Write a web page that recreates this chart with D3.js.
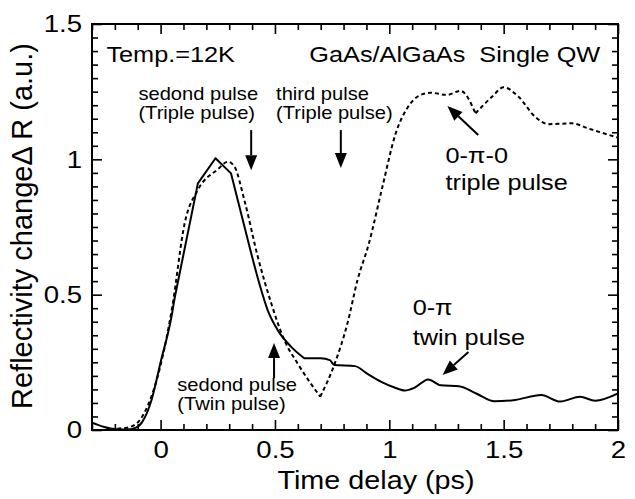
<!DOCTYPE html>
<html>
<head>
<meta charset="utf-8">
<script src="https://cdn.jsdelivr.net/npm/d3@7"></script>
<style>
  body { margin: 0; background: #fff; }
  text { font-family: "Liberation Sans", Arial, Helvetica, sans-serif; fill: #000; white-space: pre; }
</style>
</head>
<body>
<div id="chart"></div>
<script>
// chart size, matches the window
const width = 635, height = 499;
const margin = {top: 24, right: 17, bottom: 69, left: 92};
const SX = 1.15;   // the original figure is stretched a bit sideways

// 0-pi twin pulse (solid)
const twinTime = [-0.3, -0.25, -0.2, -0.15, -0.11, -0.08, -0.04, 0, 0.05, 0.061, 0.163, 0.24, 0.308, 0.388, 0.432, 0.468, 0.512, 0.57, 0.628, 0.7, 0.74, 0.76, 0.85, 0.9, 0.965, 1.02, 1.068, 1.11, 1.17, 1.225, 1.305, 1.38, 1.46, 1.55, 1.664, 1.747, 1.834, 1.9, 2.0];
const twinR = [0.027, 0.012, 0.003, 0.002, 0.008, 0.03, 0.11, 0.25, 0.43, 0.486, 0.911, 1.004, 0.948, 0.68, 0.54, 0.443, 0.369, 0.308, 0.265, 0.265, 0.258, 0.24, 0.236, 0.21, 0.178, 0.158, 0.146, 0.156, 0.187, 0.165, 0.162, 0.135, 0.106, 0.111, 0.129, 0.105, 0.123, 0.108, 0.135];

// 0-pi-0 triple pulse (dashed)
const tripleTime = [-0.22, -0.15, -0.1, -0.055, 0, 0.05, 0.105, 0.163, 0.25, 0.294, 0.323, 0.366, 0.425, 0.483, 0.541, 0.599, 0.698, 0.759, 0.817, 0.861, 0.911, 0.97, 1.028, 1.079, 1.137, 1.18, 1.253, 1.311, 1.377, 1.449, 1.5, 1.565, 1.638, 1.696, 1.8, 1.87, 2.0];
const tripleR = [0.004, 0.008, 0.028, 0.092, 0.24, 0.45, 0.763, 0.887, 0.963, 0.991, 0.973, 0.85, 0.64, 0.47, 0.332, 0.246, 0.123, 0.24, 0.394, 0.554, 0.69, 0.899, 1.096, 1.19, 1.238, 1.246, 1.238, 1.253, 1.17, 1.231, 1.266, 1.231, 1.157, 1.13, 1.133, 1.114, 1.08];

// points where the traces have a sharp corner
const twinCorners = [0.061, 0.163, 0.24, 0.308, 0.628];
const tripleCorners = [0.698, 1.377];

const xMajor = [0, 0.5, 1, 1.5, 2];
const yMajor = [0, 0.5, 1, 1.5];

const svg = d3.select("#chart").append("svg")
    .attr("width", width)
    .attr("height", height);

const x = d3.scaleLinear().domain([-0.3, 2]).range([margin.left, width - margin.right]);
const y = d3.scaleLinear().domain([0, 1.5]).range([height - margin.bottom, margin.top]);

const xMinor = d3.range(-3, 21).map(d => d / 10).filter(d => xMajor.indexOf(d) < 0);
const yMinor = d3.range(1, 30).map(d => d / 20).filter(d => yMajor.indexOf(d) < 0);

// ticks on all four sides, pointing in
function tickSet(axisFn, pos, major, minor, withLabels) {
    const scale = (axisFn === d3.axisBottom || axisFn === d3.axisTop) ? x : y;
    const g = svg.append("g").attr("transform", pos);
    g.call(axisFn(scale)
        .tickValues(major).tickSize(-10).tickPadding(axisFn === d3.axisBottom ? 11 : 10)
        .tickFormat(withLabels ? d3.format("") : ""));
    g.select(".domain").remove();
    const m = svg.append("g").attr("transform", pos);
    m.call(axisFn(scale).tickValues(minor).tickSize(-6).tickFormat(""));
    m.select(".domain").remove();
    svg.selectAll(".tick line").attr("stroke", "#000").attr("stroke-width", 1.6);
    return g;
}

const gx = tickSet(d3.axisBottom, `translate(0,${height - margin.bottom})`, xMajor, xMinor, true);
tickSet(d3.axisTop, `translate(0,${margin.top})`, xMajor, xMinor, false);
const gy = tickSet(d3.axisLeft, `translate(${margin.left},0)`, yMajor, yMinor, true);
tickSet(d3.axisRight, `translate(${width - margin.right},0)`, yMajor, yMinor, false);

gx.selectAll("text").attr("font-size", 24).attr("font-family", null)
    .attr("transform", `scale(${SX},1)`);
gy.selectAll("text").attr("font-size", 24).attr("font-family", null)
    .attr("transform", `scale(${SX},1)`)
    .attr("x", -10 / SX);

// frame
svg.append("rect")
    .attr("x", margin.left).attr("y", margin.top)
    .attr("width", width - margin.left - margin.right)
    .attr("height", height - margin.top - margin.bottom)
    .attr("fill", "none").attr("stroke", "#000").attr("stroke-width", 2);

const line = d3.line()
    .x(d => x(d[0]))
    .y(d => y(d[1]))
    .curve(d3.curveMonotoneX);

// smooth between corners, joined into one path
function tracePath(ts, vs, corners) {
    const pts = d3.zip(ts, vs);
    let d = "", seg = [];
    pts.forEach(p => {
        seg.push(p);
        if (corners.indexOf(p[0]) >= 0) {
            if (seg.length > 1) d += line(seg);
            seg = [p];
        }
    });
    if (seg.length > 1) d += line(seg);
    return d;
}

svg.append("path")
    .attr("d", tracePath(tripleTime, tripleR, tripleCorners))
    .attr("fill", "none").attr("stroke", "#000")
    .attr("stroke-width", 2).attr("stroke-dasharray", "4,3");

svg.append("path")
    .attr("d", tracePath(twinTime, twinR, twinCorners))
    .attr("fill", "none").attr("stroke", "#000")
    .attr("stroke-width", 2).attr("stroke-linejoin", "round").attr("stroke-linecap", "round");

// text helper
function label(px, py, str, size, anchor) {
    svg.append("text")
        .attr("transform", `translate(${px},${py}) scale(${SX},1)`)
        .attr("text-anchor", anchor || "start")
        .attr("font-size", size)
        .text(str);
}

// axis titles
label(376, 489, "Time delay (ps)", 25, "middle");
svg.append("text")
    .attr("transform", `translate(32,${226}) rotate(-90)`)
    .attr("text-anchor", "middle")
    .attr("font-size", 29)
    .text("Reflectivity change\u0394 R (a.u.)");

// annotations
label(x(-0.237), y(1.359), "Temp.=12K", 22);
label(x(1.922), y(1.359), "GaAs/AlGaAs  Single QW", 22, "end");
label(x(-0.097), y(1.218), "sedond pulse", 17.5);
label(x(-0.097), y(1.15), "(Triple pulse)", 17.5);
label(x(0.505), y(1.218), "third pulse", 17.5);
label(x(0.505), y(1.15), "(Triple pulse)", 17.5);
label(x(0.073), y(0.143), "sedond pulse", 17.5);
label(x(0.073), y(0.075), "(Twin pulse)", 17.5);
label(x(1.246), y(0.986), "0-\u03c0-0", 22);
label(x(1.246), y(0.887), "triple pulse", 22);
label(x(1.102), y(0.425), "0-\u03c0", 22);
label(x(1.102), y(0.314), "twin pulse", 22);

// arrows: from (t, R) to (t, R)
function arrow(t0, r0, t1, r1) {
    const x0 = x(t0), y0 = y(r0), x1 = x(t1), y1 = y(r1);
    const a = Math.atan2(y1 - y0, x1 - x0);
    const len = 15, hw = 6;
    const bx = x1 - len * Math.cos(a), by = y1 - len * Math.sin(a);
    svg.append("line")
        .attr("x1", x0).attr("y1", y0).attr("x2", bx).attr("y2", by)
        .attr("stroke", "#000").attr("stroke-width", 2);
    svg.append("path")
        .attr("d", `M${x1},${y1}L${bx + hw * Math.sin(a)},${by - hw * Math.cos(a)}L${bx - hw * Math.sin(a)},${by + hw * Math.cos(a)}Z`)
        .attr("fill", "#000");
}
arrow(0.396, 1.108, 0.396, 0.96);
arrow(0.788, 1.108, 0.788, 0.968);
arrow(0.496, 0.192, 0.496, 0.321);
arrow(1.389, 1.09, 1.254, 1.197);
arrow(1.346, 0.288, 1.233, 0.203);
</script>
</body>
</html>
